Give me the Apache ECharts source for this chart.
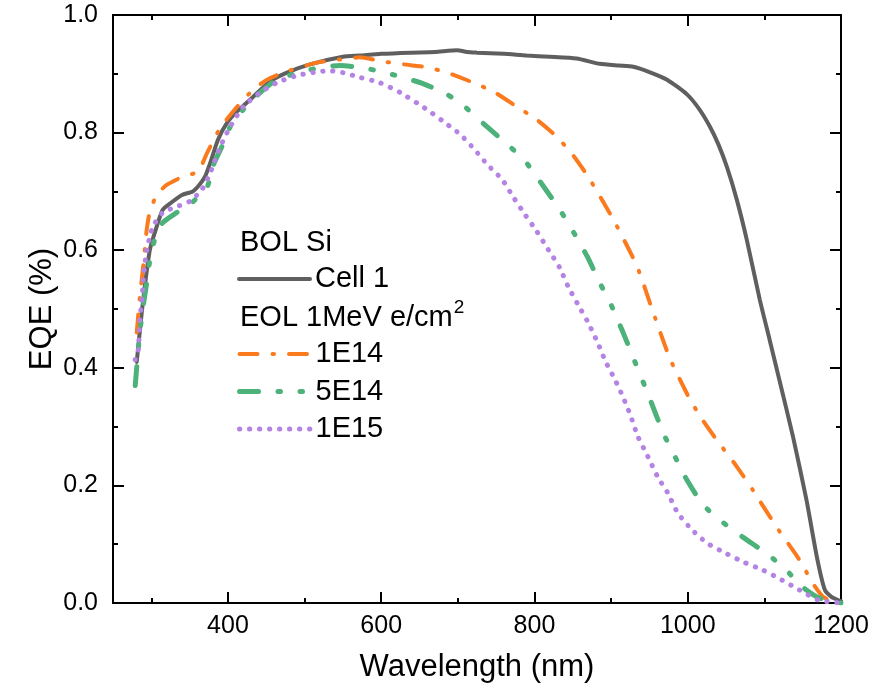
<!DOCTYPE html>
<html>
<head>
<meta charset="utf-8">
<script src="https://cdn.jsdelivr.net/npm/echarts@6/dist/echarts.min.js"></script>
<style>html,body{margin:0;padding:0;background:#fff;}#c{width:890px;height:692px;}</style>
</head>
<body>
<div id="c"></div>
<script>
// ---- data ----
const xTickLabels = [400, 600, 800, 1000, 1200];
const xMinorTicks = [300, 500, 700, 900, 1100];

const cell1X = [281,288,298,307,315,327,340,354,362,370,377,387,399,412,433,455,477,507,550,572,600,638,670,699,712,725,760,790,820,855,885,910,929,950,973,999,1015,1029,1040,1051,1064,1077,1094,1107,1120,1137,1155,1169,1179,1188,1196,1200];
const cell1Y = [0.41,0.50,0.60,0.64,0.669,0.682,0.694,0.70,0.71,0.725,0.749,0.788,0.817,0.836,0.861,0.887,0.902,0.916,0.929,0.931,0.934,0.936,0.937,0.940,0.937,0.936,0.934,0.931,0.929,0.926,0.917,0.914,0.912,0.903,0.89,0.865,0.84,0.81,0.78,0.742,0.686,0.618,0.516,0.447,0.377,0.285,0.175,0.075,0.022,0.01,0.005,0.003];

const e14X = [281,285,290,294,298,307,320,341,361,373,390,412,433,451,472,516,550,572,602,630,660,686,720,746,777,803,829,850,870,903,934,955,977,1003,1020,1038,1064,1085,1116,1146,1163,1177,1190,1200];
const e14Y = [0.46,0.52,0.58,0.635,0.665,0.694,0.711,0.725,0.734,0.766,0.808,0.844,0.873,0.89,0.902,0.919,0.925,0.928,0.921,0.916,0.911,0.902,0.885,0.87,0.844,0.822,0.793,0.762,0.725,0.652,0.572,0.494,0.415,0.346,0.31,0.277,0.232,0.192,0.129,0.073,0.034,0.01,0.003,0.0];

const e514X = [279,285,290,294,299,306,315,333,353,373,380,392,403,420,442,464,507,546,581,611,651,686,709,738,768,788,811,833,849,869,885,899,915,929,951,968,981,999,1020,1042,1072,1105,1127,1150,1169,1185,1200];
const e514Y = [0.37,0.46,0.51,0.545,0.59,0.625,0.647,0.664,0.681,0.708,0.742,0.776,0.81,0.839,0.868,0.89,0.907,0.914,0.909,0.90,0.885,0.865,0.844,0.81,0.776,0.751,0.71,0.669,0.635,0.589,0.545,0.51,0.462,0.417,0.346,0.289,0.255,0.209,0.167,0.141,0.112,0.082,0.058,0.027,0.01,0.003,0.0];

const e15X = [279,283,285,288,290,294,302,315,333,350,366,377,390,403,420,442,464,490,520,535,550,572,598,625,660,681,703,722,739,758,772,788,803,818,833,844,857,870,882,893,905,915,925,935,948,961,974,987,1006,1025,1049,1072,1098,1123,1146,1170,1185,1200];
const e15Y = [0.414,0.43,0.48,0.52,0.558,0.60,0.64,0.664,0.674,0.683,0.703,0.732,0.776,0.81,0.844,0.868,0.885,0.897,0.904,0.905,0.902,0.894,0.885,0.868,0.839,0.819,0.797,0.771,0.745,0.72,0.691,0.66,0.632,0.601,0.57,0.538,0.507,0.477,0.444,0.41,0.38,0.352,0.32,0.283,0.249,0.214,0.187,0.153,0.124,0.102,0.085,0.07,0.056,0.039,0.022,0.005,0.002,0.0];

const seriesNames = ['Cell 1', '1E14', '5E14', '1E15'];
const header1 = 'BOL Si';
const header2 = 'EOL 1MeV e/cm';
const header2Sup = '2';

// ---- build ----
const pairs = (xs, ys) => xs.map((x, i) => [x, ys[i]]);
const FONT = "'Liberation Sans', Arial, sans-serif";
const chart = echarts.init(document.getElementById('c'), null, {renderer: 'canvas'});

const axLine = {show: true, lineStyle: {color: '#000', width: 2}};
function xAx(pos, ticks, len, labels) {
  return {
    type: 'value', position: pos, min: 250, max: 1200,
    axisLine: axLine, splitLine: {show: false},
    axisTick: {show: true, inside: true, length: len, customValues: ticks, lineStyle: {color: '#000', width: 2}},
    axisLabel: labels ? {show: true, customValues: xTickLabels, color: '#000', fontSize: 25, fontFamily: FONT, margin: 11, formatter: v => String(v)} : {show: false},
    name: labels ? 'Wavelength (nm)' : '', nameLocation: 'middle', nameGap: 49, nameMoveOverlap: false,
    nameTextStyle: {color: '#000', fontSize: 31, fontFamily: FONT}
  };
}
function yAx(pos, labels) {
  return {
    type: 'value', position: pos, min: 0, max: 1, interval: 0.2,
    axisLine: axLine, splitLine: {show: false},
    axisTick: {show: true, inside: true, length: 11, lineStyle: {color: '#000', width: 2}},
    minorTick: {show: true, splitNumber: 2, length: 5, lineStyle: {color: '#000', width: 2}},
    axisLabel: labels ? {show: true, color: '#000', fontSize: 25, fontFamily: FONT, margin: 15, formatter: v => v.toFixed(1)} : {show: false},
    name: labels ? 'EQE (%)' : '', nameLocation: 'middle', nameGap: 55, nameRotate: 90, nameMoveOverlap: false,
    nameTextStyle: {color: '#000', fontSize: 31, fontFamily: FONT}
  };
}

const colors = ['#5f5f5f', '#fb7a1e', '#4cb27a', '#b583e3'];
const styles = [
  {width: 4, type: 'solid', cap: 'round'},
  {width: 4, type: [18, 15, 1.5, 15], cap: 'round'},
  {width: 5, type: [19, 19.5, 2.5, 19.5, 2.5, 19.5], cap: 'round'},
  {width: 5, type: [0.3, 9.7], cap: 'round'}
];
const datas = [pairs(cell1X, cell1Y), pairs(e14X, e14Y), pairs(e514X, e514Y), pairs(e15X, e15Y)];

const legendBase = {
  orient: 'vertical', left: 237, itemWidth: 71, itemHeight: 20, itemGap: 7.5, padding: 0,
  selectedMode: false,
  itemStyle: {opacity: 0},
  textStyle: {color: '#000', fontSize: 29, fontFamily: FONT, lineHeight: 30}
};
const legendItem = i => ({
  name: seriesNames[i],
  lineStyle: Object.assign({color: colors[i]}, styles[i], {dashOffset: 0}),
  itemStyle: {opacity: 0}
});

chart.setOption({
  animation: false,
  backgroundColor: '#fff',
  grid: {left: 113, right: 49, top: 15, bottom: 89, containLabel: false},
  xAxis: [
    xAx('bottom', xTickLabels, 11, true),
    xAx('bottom', xMinorTicks, 5, false),
    xAx('top', xTickLabels, 11, false),
    xAx('top', xMinorTicks, 5, false)
  ],
  yAxis: [yAx('left', true), yAx('right', false)],
  legend: [
    Object.assign({}, legendBase, {top: 264, data: [legendItem(0)]}),
    Object.assign({}, legendBase, {top: 339, data: [legendItem(1), legendItem(2), legendItem(3)]})
  ],
  graphic: [
    {type: 'text', left: 240, top: 228, style: {text: header1, fill: '#000', font: '29px ' + FONT}},
    {type: 'text', left: 240, top: 298, style: {
      text: '{a|' + header2 + '}{s|' + header2Sup + '}', fill: '#000',
      rich: {
        a: {fontSize: 29, fontFamily: FONT, color: '#000', lineHeight: 34, verticalAlign: 'bottom'},
        s: {fontSize: 19, fontFamily: FONT, color: '#000', lineHeight: 34, verticalAlign: 'top', padding: [0, 0, 0, 1]}
      }
    }}
  ],
  series: seriesNames.map((n, i) => ({
    name: n, type: 'line', data: datas[i], xAxisIndex: 0, yAxisIndex: 0,
    symbol: 'none', showSymbol: false, smooth: 0.2,
    lineStyle: Object.assign({color: colors[i]}, styles[i]),
    itemStyle: {color: colors[i]},
    z: 2 + i
  }))
});
</script>
</body>
</html>
